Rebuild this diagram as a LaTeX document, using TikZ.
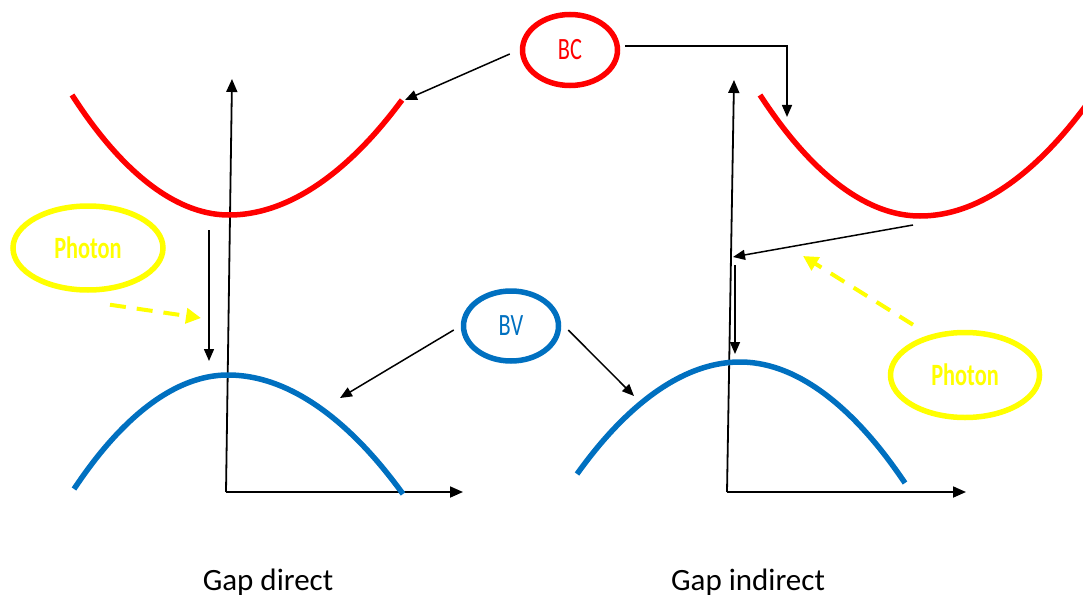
\documentclass[tikz,border=0pt]{standalone}
\usepackage{fontspec}
\setmainfont{Carlito}
\usetikzlibrary{arrows.meta,shapes.geometric}
\definecolor{bandred}{RGB}{255,0,0}
\definecolor{bandblue}{RGB}{0,112,192}
\definecolor{photonyellow}{RGB}{255,255,0}
\newcommand{\bubbletext}[2][0.72]{\fontsize{31}{31}\selectfont\scalebox{#1}[1]{#2}}
\tikzset{
  cband/.style={bandred,line width=5.5pt},
  vband/.style={bandblue,line width=5.5pt},
  axis/.style={line width=1.8pt,-{Triangle[length=13pt,width=11pt]}},
  arr/.style={line width=1.5pt,-{Triangle[length=12pt,width=10pt]}},
  bubble/.style={ellipse,draw,line width=5.5pt,inner sep=0pt},
  photonarr/.style={photonyellow,line width=4pt,dash pattern=on 16pt off 11pt,
    -{Triangle[length=15pt,width=15pt]}},
  caption/.style={font=\fontsize{31}{31}\selectfont}
}
\begin{document}
\begin{tikzpicture}[x=1pt,y=-1pt]
\useasboundingbox (0,0) rectangle (1083,599);
\clip (0,0) rectangle (1083,599);

% ---- left panel: direct gap ----
\coordinate (oL) at (226,492);
\coordinate (yL) at (232,79);
\coordinate (xL) at (463,492);
\draw[axis] (oL) -- (yL);
\draw[axis] (oL) -- (xL);
\draw[cband] (72,95) parabola bend (229,215) (402,100);
\draw[vband] (74,489) parabola bend (228,375) (403,494);
\coordinate (dTop) at (209,230);
\coordinate (dBot) at (209,361);
\draw[arr] (dTop) -- (dBot);

% ---- right panel: indirect gap ----
\coordinate (oR) at (727,492);
\coordinate (yR) at (734,80);
\coordinate (xR) at (966,492);
\draw[axis] (oR) -- (yR);
\draw[axis] (oR) -- (xR);
\draw[cband] (760,95) parabola bend (920,216) (1090,100);
\draw[vband] (577,474) parabola bend (740,362) (905,483);
\coordinate (iStart) at (913,225);
\coordinate (iAxis) at (733,257);
\coordinate (iTop) at (735,265);
\coordinate (iBot) at (735,354);
\draw[arr] (iStart) -- (iAxis);
\draw[arr] (iTop) -- (iBot);

% ---- band labels ----
\node[bubble,bandred,minimum width=95pt,minimum height=71pt] (bc) at (570,50)
  {\color{bandred}\bubbletext{BC}};
\node[bubble,bandblue,minimum width=95pt,minimum height=70pt] (bv) at (511,326)
  {\color{bandblue}\bubbletext{BV}};
\coordinate (bcL) at (405,100);
\coordinate (bcR) at (787,117);
\coordinate (bvL) at (340,398);
\coordinate (bvR) at (634,396);
\draw[arr] ([shift={(-10,4)}]bc.west) -- (bcL);
\draw[arr] ([shift={(5,-4)}]bc.east) -| (bcR);
\draw[arr] ([shift={(-7,4)}]bv.west) -- (bvL);
\draw[arr] ([shift={(7,4)}]bv.east) -- (bvR);

% ---- photons ----
\node[bubble,photonyellow,minimum width=150pt,minimum height=84pt] (phL) at (88,248)
  {\color{photonyellow}\bubbletext{\bfseries Photon}};
\node[bubble,photonyellow,minimum width=149pt,minimum height=85pt] (phR) at (965,375)
  {\color{photonyellow}\bubbletext{\bfseries Photon}};
\coordinate (phLtip) at (201,318);
\coordinate (phRtip) at (803,256);
\draw[photonarr] ([shift={(22,12)}]phL.south) -- (phLtip);
\draw[photonarr] ([shift={(-52,-5)}]phR.north) -- (phRtip);

% ---- captions ----
\node[caption] (capD) at (268,582) {Gap direct};
\node[caption] (capI) at (748,582) {Gap indirect};
\end{tikzpicture}
\end{document}
